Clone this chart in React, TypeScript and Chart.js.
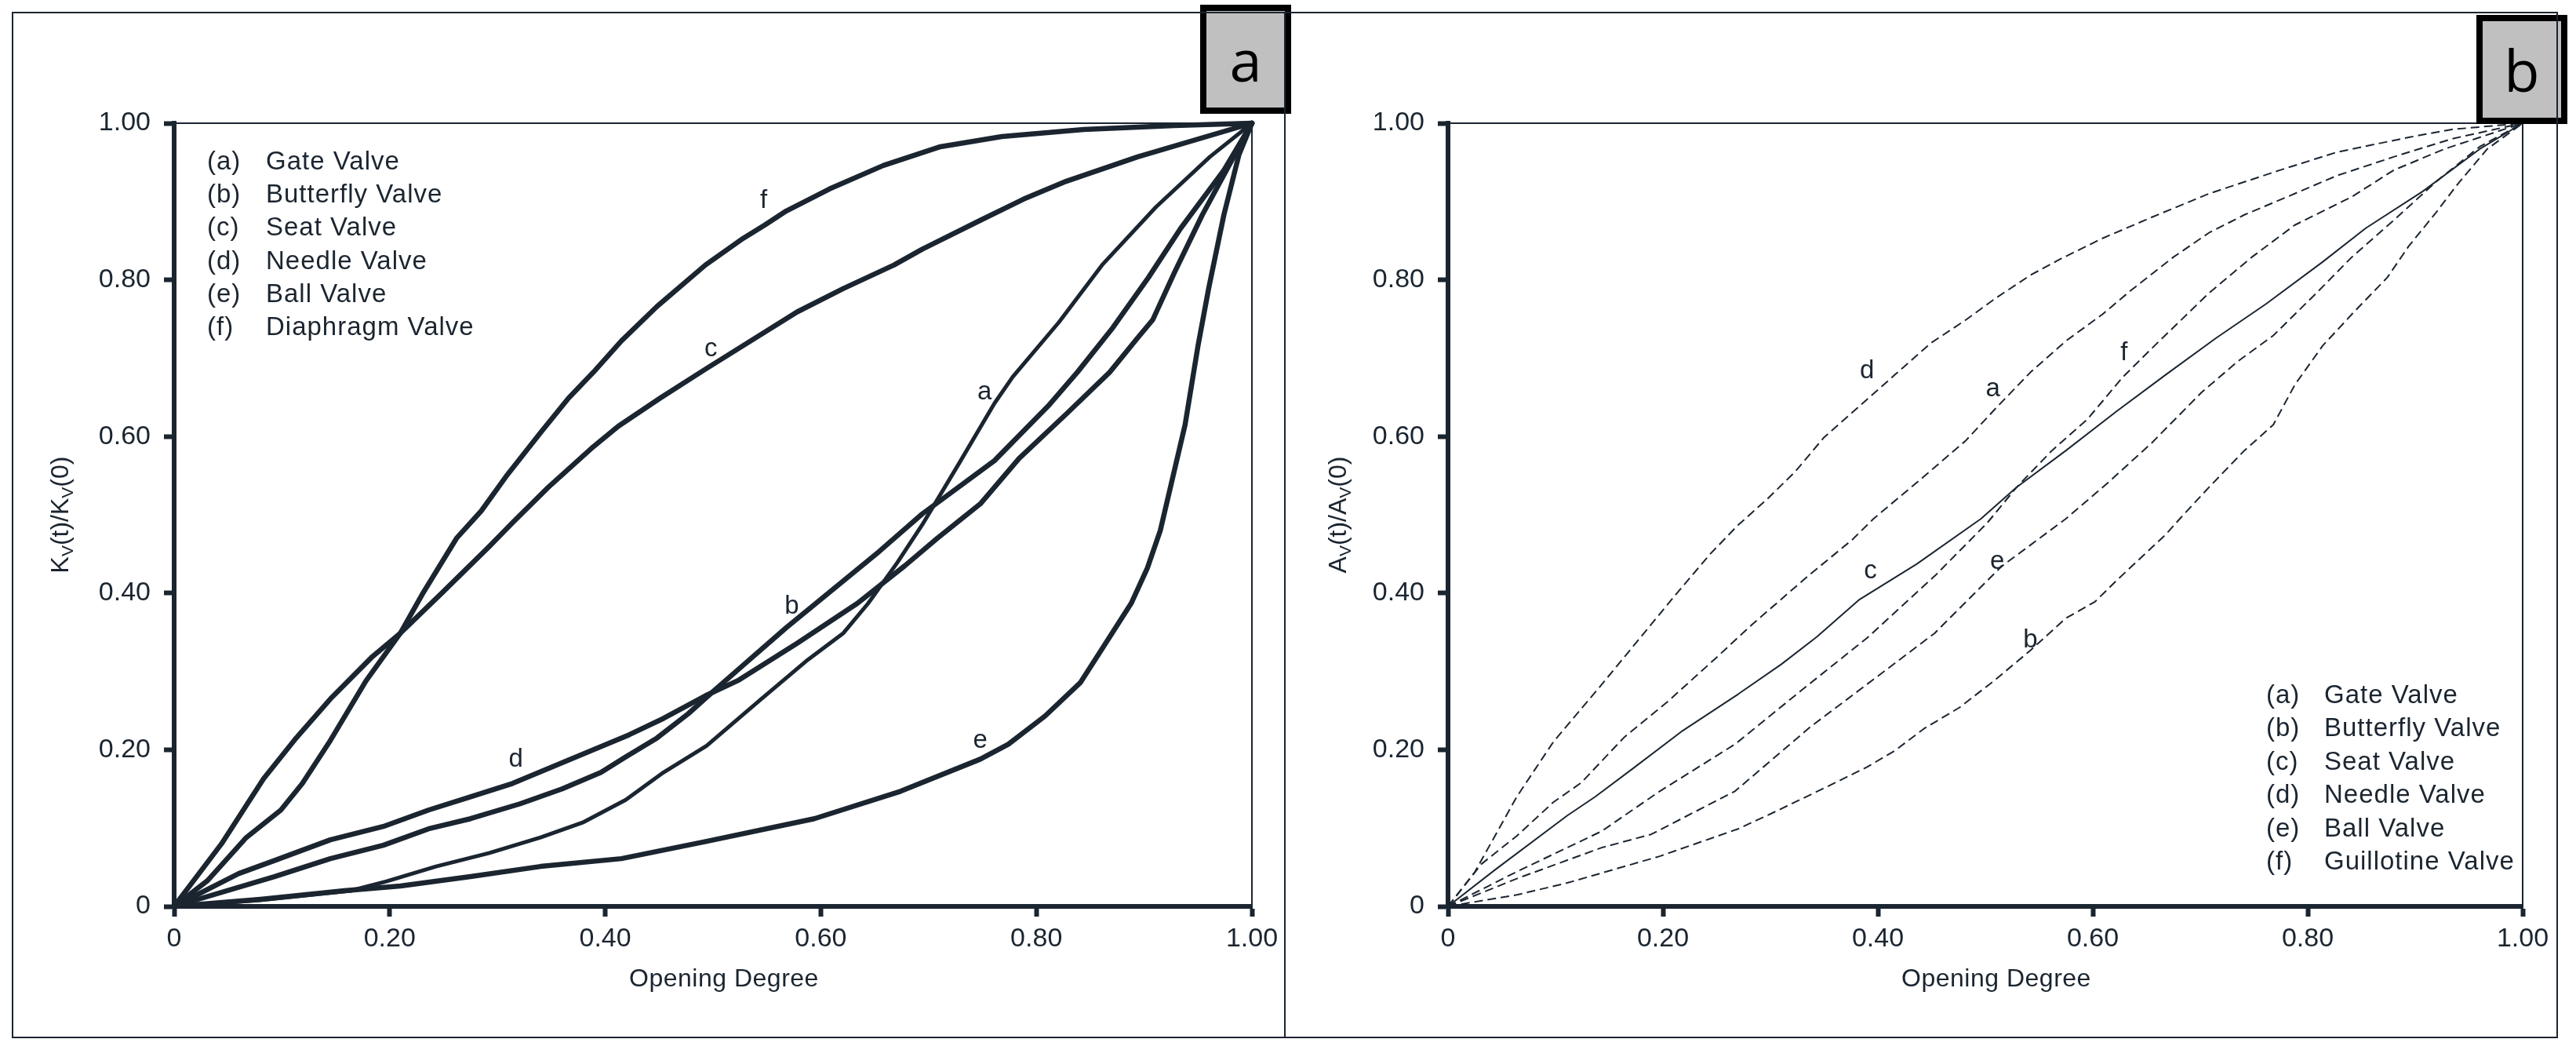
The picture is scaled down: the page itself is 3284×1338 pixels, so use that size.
import React, { useEffect, useRef } from 'react';
import { Chart, registerables } from 'chart.js';

Chart.register(...registerables);

const INK = '#1b2530';
const FONT = "'Liberation Sans', Arial, sans-serif";

// ---------- data ----------
const tickValues = [0, 0.2, 0.4, 0.6, 0.8, 1.0];
const tickLabels = ['0', '0.20', '0.40', '0.60', '0.80', '1.00'];

const valveLetters = ['a', 'b', 'c', 'd', 'e', 'f'];
const kvValveNames = ['Gate Valve', 'Butterfly Valve', 'Seat Valve', 'Needle Valve', 'Ball Valve', 'Diaphragm Valve'];
const avValveNames = ['Gate Valve', 'Butterfly Valve', 'Seat Valve', 'Needle Valve', 'Ball Valve', 'Guillotine Valve'];

const xTitle = 'Opening Degree';
const kvTitleParts: [string, boolean][] = [['K', false], ['V', true], ['(t)/', false], ['K', false], ['V', true], ['(0)', false]];
const avTitleParts: [string, boolean][] = [['A', false], ['V', true], ['(t)/', false], ['A', false], ['V', true], ['(0)', false]];

// panel a : Kv(t)/Kv(0)
const kvGate = [[0, 0], [0.08, 0.008], [0.164, 0.02], [0.197, 0.032], [0.243, 0.051], [0.292, 0.068], [0.34, 0.088], [0.379, 0.107], [0.419, 0.136], [0.454, 0.171], [0.494, 0.205], [0.544, 0.264], [0.588, 0.315], [0.621, 0.349], [0.644, 0.387], [0.671, 0.439], [0.694, 0.487], [0.728, 0.565], [0.761, 0.642], [0.778, 0.676], [0.821, 0.746], [0.861, 0.819], [0.911, 0.893], [0.961, 0.957], [1, 1]];
const kvButterfly = [[0, 0], [0.093, 0.038], [0.145, 0.061], [0.194, 0.078], [0.236, 0.099], [0.275, 0.112], [0.321, 0.131], [0.36, 0.15], [0.396, 0.171], [0.419, 0.191], [0.448, 0.215], [0.477, 0.246], [0.494, 0.267], [0.528, 0.308], [0.568, 0.356], [0.608, 0.401], [0.654, 0.453], [0.694, 0.501], [0.761, 0.569], [0.811, 0.639], [0.838, 0.682], [0.871, 0.739], [0.904, 0.803], [0.934, 0.866], [0.974, 0.94], [1, 1]];
const kvSeat = [[0, 0], [0.044, 0.08], [0.083, 0.163], [0.112, 0.213], [0.145, 0.265], [0.184, 0.319], [0.21, 0.349], [0.249, 0.401], [0.292, 0.459], [0.314, 0.49], [0.347, 0.535], [0.389, 0.587], [0.412, 0.613], [0.451, 0.649], [0.493, 0.686], [0.578, 0.759], [0.621, 0.789], [0.668, 0.819], [0.694, 0.839], [0.748, 0.876], [0.788, 0.903], [0.828, 0.926], [0.894, 0.957], [1, 1]];
const kvNeedle = [[0, 0], [0.06, 0.042], [0.09, 0.057], [0.145, 0.085], [0.194, 0.102], [0.236, 0.123], [0.275, 0.14], [0.314, 0.157], [0.373, 0.191], [0.422, 0.219], [0.454, 0.24], [0.493, 0.269], [0.524, 0.289], [0.578, 0.336], [0.634, 0.387], [0.678, 0.435], [0.708, 0.47], [0.748, 0.514], [0.784, 0.572], [0.828, 0.629], [0.868, 0.682], [0.894, 0.726], [0.908, 0.749], [0.928, 0.809], [0.954, 0.883], [1, 1]];
const kvBall = [[0, 0], [0.08, 0.009], [0.158, 0.02], [0.21, 0.026], [0.275, 0.038], [0.34, 0.051], [0.415, 0.061], [0.494, 0.083], [0.594, 0.112], [0.674, 0.147], [0.748, 0.188], [0.774, 0.207], [0.808, 0.243], [0.841, 0.286], [0.861, 0.329], [0.888, 0.387], [0.903, 0.432], [0.915, 0.48], [0.938, 0.615], [0.95, 0.716], [0.96, 0.79], [0.974, 0.883], [0.988, 0.96], [1, 1]];
const kvDiaphragm = [[0, 0], [0.031, 0.033], [0.067, 0.088], [0.099, 0.123], [0.119, 0.157], [0.145, 0.212], [0.178, 0.288], [0.21, 0.349], [0.23, 0.398], [0.262, 0.47], [0.285, 0.505], [0.308, 0.549], [0.34, 0.605], [0.366, 0.649], [0.389, 0.682], [0.415, 0.722], [0.448, 0.766], [0.493, 0.819], [0.528, 0.853], [0.548, 0.87], [0.568, 0.888], [0.608, 0.916], [0.658, 0.946], [0.711, 0.97], [0.768, 0.983], [0.844, 0.992], [0.928, 0.997], [1, 1]];

// panel b : Av(t)/Av(0)
const avGate = [[0, 0], [0.031, 0.054], [0.064, 0.09], [0.098, 0.133], [0.124, 0.158], [0.164, 0.216], [0.204, 0.261], [0.25, 0.318], [0.283, 0.36], [0.336, 0.423], [0.376, 0.468], [0.396, 0.495], [0.443, 0.549], [0.482, 0.595], [0.509, 0.635], [0.542, 0.682], [0.575, 0.722], [0.609, 0.756], [0.635, 0.786], [0.675, 0.829], [0.708, 0.86], [0.741, 0.883], [0.781, 0.906], [0.827, 0.933], [0.88, 0.957], [0.934, 0.98], [1, 1]];
const avButterfly = [[0, 0], [0.065, 0.015], [0.111, 0.03], [0.197, 0.064], [0.27, 0.099], [0.303, 0.12], [0.35, 0.151], [0.39, 0.178], [0.416, 0.199], [0.443, 0.227], [0.476, 0.254], [0.509, 0.289], [0.542, 0.327], [0.575, 0.368], [0.602, 0.389], [0.622, 0.416], [0.668, 0.475], [0.681, 0.495], [0.708, 0.535], [0.741, 0.582], [0.768, 0.615], [0.788, 0.666], [0.814, 0.716], [0.841, 0.756], [0.874, 0.803], [0.894, 0.843], [0.92, 0.887], [0.94, 0.923], [0.967, 0.967], [1, 1]];
const avSeat = [[0, 0], [0.044, 0.047], [0.111, 0.116], [0.137, 0.14], [0.171, 0.175], [0.217, 0.223], [0.27, 0.271], [0.31, 0.309], [0.343, 0.344], [0.383, 0.392], [0.436, 0.437], [0.496, 0.495], [0.529, 0.535], [0.575, 0.582], [0.622, 0.632], [0.668, 0.679], [0.715, 0.726], [0.761, 0.769], [0.814, 0.823], [0.854, 0.866], [0.907, 0.913], [0.96, 0.967], [1, 1]];
const avNeedle = [[0, 0], [0.025, 0.044], [0.064, 0.14], [0.098, 0.21], [0.141, 0.28], [0.177, 0.34], [0.21, 0.395], [0.244, 0.45], [0.27, 0.487], [0.297, 0.52], [0.323, 0.555], [0.35, 0.599], [0.383, 0.639], [0.416, 0.679], [0.449, 0.719], [0.482, 0.749], [0.509, 0.776], [0.542, 0.806], [0.569, 0.826], [0.609, 0.853], [0.655, 0.88], [0.708, 0.91], [0.774, 0.94], [0.827, 0.963], [0.894, 0.982], [0.934, 0.992], [1, 1]];
const avBall = [[0, 0], [0.065, 0.036], [0.143, 0.075], [0.189, 0.092], [0.267, 0.147], [0.337, 0.229], [0.399, 0.293], [0.453, 0.349], [0.515, 0.434], [0.575, 0.495], [0.615, 0.542], [0.655, 0.592], [0.701, 0.656], [0.735, 0.696], [0.768, 0.729], [0.808, 0.783], [0.841, 0.829], [0.88, 0.876], [0.92, 0.926], [0.96, 0.97], [1, 1]];
const avGuillotine = [[0, 0], [0.065, 0.045], [0.143, 0.096], [0.197, 0.147], [0.267, 0.207], [0.329, 0.276], [0.391, 0.344], [0.453, 0.422], [0.502, 0.49], [0.529, 0.535], [0.562, 0.582], [0.595, 0.622], [0.628, 0.676], [0.662, 0.722], [0.708, 0.783], [0.748, 0.829], [0.788, 0.87], [0.841, 0.906], [0.88, 0.94], [0.927, 0.967], [1, 1]];

// where the curve letters sit (data coordinates, order a..f)
const kvLetterAt = [[0.752, 0.656], [0.573, 0.383], [0.498, 0.712], [0.317, 0.187], [0.748, 0.212], [0.547, 0.901]];
const avLetterAt = [[0.507, 0.66], [0.542, 0.34], [0.393, 0.428], [0.39, 0.683], [0.511, 0.44], [0.629, 0.707]];

const kvSeries = [kvGate, kvButterfly, kvSeat, kvNeedle, kvBall, kvDiaphragm];
const avSeries = [avGate, avButterfly, avSeat, avNeedle, avBall, avGuillotine];

// ---------- plugin ----------
const decorPlugin = {
  id: 'decor',
  beforeDatasetsDraw(chart: any) {
    const { ctx, chartArea: ca } = chart;
    ctx.save();
    ctx.strokeStyle = INK;
    ctx.lineWidth = 2;
    ctx.beginPath();
    ctx.moveTo(ca.left, ca.top);
    ctx.lineTo(ca.right, ca.top);
    ctx.lineTo(ca.right, ca.bottom);
    ctx.stroke();
    ctx.restore();
  },
  afterDraw(chart: any, _args: any, opts: any) {
    const { ctx, chartArea: ca, scales } = chart;
    const xs = scales.x;
    const ys = scales.y;
    ctx.save();
    ctx.fillStyle = INK;
    ctx.font = `33px ${FONT}`;
    ctx.textAlign = 'center';
    ctx.textBaseline = 'middle';
    (opts.letterAt as number[][]).forEach(([lx, ly], i) => {
      ctx.fillText(valveLetters[i], xs.getPixelForValue(lx), ys.getPixelForValue(ly));
    });
    // x title
    ctx.font = `32px ${FONT}`;
    try { (ctx as any).letterSpacing = '0.5px'; } catch (e) { /* ignore */ }
    ctx.fillText(xTitle, (ca.left + ca.right) / 2 + opts.xTitleShift, opts.xTitleY);
    // legend
    ctx.font = `33px ${FONT}`;
    try { (ctx as any).letterSpacing = '1px'; } catch (e) { /* ignore */ }
    ctx.textAlign = 'left';
    chart.data.datasets.forEach((ds: any, i: number) => {
      const yy = ca.top + opts.legendTop + i * opts.legendStep;
      ctx.fillText(`(${valveLetters[i]})`, ca.left + opts.legendLeft, yy);
      ctx.fillText(ds.label, ca.left + opts.legendText, yy);
    });
    try { (ctx as any).letterSpacing = '0px'; } catch (e) { /* ignore */ }
    // y title with subscripts
    const parts = opts.yTitle as [string, boolean][];
    const big = `32px ${FONT}`;
    const small = `21px ${FONT}`;
    let total = 0;
    parts.forEach(([t, sub]) => {
      ctx.font = sub ? small : big;
      total += ctx.measureText(t).width;
    });
    ctx.translate(ca.left - opts.yTitleOffset, (ca.top + ca.bottom) / 2);
    ctx.rotate(-Math.PI / 2);
    ctx.textBaseline = 'alphabetic';
    let cx = -total / 2;
    parts.forEach(([t, sub]) => {
      ctx.font = sub ? small : big;
      ctx.fillText(t, cx, sub ? 17 : 11);
      cx += ctx.measureText(t).width;
    });
    ctx.restore();
  },
};

function tickText(v: number) {
  const i = tickValues.findIndex((t) => Math.abs(t - v) < 1e-9);
  return i >= 0 ? tickLabels[i] : '';
}

function makeScale(axis: 'x' | 'y', size: number) {
  return {
    type: 'linear',
    min: 0,
    max: 1,
    position: axis === 'x' ? 'bottom' : 'left',
    afterBuildTicks: (s: any) => {
      s.ticks = tickValues.map((v) => ({ value: v }));
    },
    afterFit: (s: any) => {
      if (axis === 'x') s.height = size;
      else s.width = size;
    },
    ticks: {
      callback: (v: number) => tickText(v),
      font: { family: FONT, size: 34 },
      color: INK,
      padding: axis === 'x' ? 8 : 17,
      maxRotation: 0,
      autoSkip: false,
    },
    grid: {
      display: true,
      drawOnChartArea: false,
      drawTicks: true,
      tickLength: 13,
      tickWidth: 6,
      tickColor: INK,
    },
    border: { display: true, width: 6, color: INK },
    title: { display: false },
  };
}

type PanelProps = {
  left: number;
  width: number;
  series: number[][][];
  names: string[];
  thick: boolean;
  yAxisWidth: number;
  padRight: number;
  letterAt: number[][];
  yTitle: [string, boolean][];
  yTitleOffset: number;
  legendLeft: number;
  legendText: number;
  legendTop: number;
  legendStep: number;
};

function Panel(p: PanelProps) {
  const ref = useRef<HTMLCanvasElement | null>(null);
  useEffect(() => {
    if (!ref.current) return;
    const datasets = p.series.map((pts, i) => ({
      label: p.names[i],
      data: pts.map(([x, y]) => ({ x, y })),
      borderColor: INK,
      borderWidth: p.thick ? (i === 0 ? 5 : 6.5) : 2,
      borderDash: p.thick ? [] : i === 2 ? [] : [11, 6],
      borderJoinStyle: 'round',
      borderCapStyle: p.thick ? 'round' : 'butt',
      pointRadius: 0,
      tension: 0,
      fill: false,
      clip: false,
    }));
    const chart = new Chart(ref.current, {
      type: 'line',
      data: { datasets } as any,
      options: {
        animation: false,
        responsive: false,
        devicePixelRatio: 1,
        layout: { padding: { left: 0, top: 157, right: p.padRight, bottom: 40 } },
        plugins: {
          legend: { display: false },
          tooltip: { enabled: false },
          decor: {
            letterAt: p.letterAt,
            yTitle: p.yTitle,
            yTitleOffset: p.yTitleOffset,
            legendLeft: p.legendLeft,
            legendText: p.legendText,
            legendTop: p.legendTop,
            legendStep: p.legendStep,
            xTitleShift: 14,
            xTitleY: 1248,
          },
        } as any,
        scales: {
          x: makeScale('x', 143),
          y: makeScale('y', p.yAxisWidth),
        } as any,
      },
      plugins: [decorPlugin as any],
    });
    return () => chart.destroy();
  }, []);
  return (
    <canvas
      ref={ref}
      width={p.width}
      height={1338}
      style={{ position: 'absolute', left: p.left, top: 0, width: p.width, height: 1338 }}
    />
  );
}

const boxStyle = (left: number, top: number): React.CSSProperties => ({
  position: 'absolute',
  left,
  top,
  width: 116,
  height: 139,
  boxSizing: 'border-box',
  border: '8px solid #000',
  background: '#c0c0c0',
  display: 'flex',
  alignItems: 'center',
  justifyContent: 'center',
  fontFamily: "'Open Sans', sans-serif",
  fontSize: 74,
  lineHeight: 1,
  color: '#000',
});

export default function App() {
  useEffect(() => {
    document.body.style.margin = '0';
  }, []);
  return (
    <div style={{ position: 'fixed', left: 0, top: 0, width: 3284, height: 1338, background: '#fff', overflow: 'hidden' }}>
      <Panel
        left={0}
        width={1640}
        series={kvSeries}
        names={kvValveNames}
        thick={true}
        yAxisWidth={222}
        padRight={44}
        letterAt={kvLetterAt}
        yTitle={kvTitleParts}
        yTitleOffset={146}
        legendLeft={42}
        legendText={117}
        legendTop={50}
        legendStep={42.2}
      />
      <Panel
        left={1640}
        width={1644}
        series={avSeries}
        names={avValveNames}
        thick={false}
        yAxisWidth={206}
        padRight={68}
        letterAt={avLetterAt}
        yTitle={avTitleParts}
        yTitleOffset={141}
        legendLeft={1043}
        legendText={1117}
        legendTop={730}
        legendStep={42.4}
      />
      <div style={boxStyle(1530, 6)}>a</div>
      <div style={boxStyle(3157, 19)}>b</div>
      <div style={{ position: 'absolute', left: 15, top: 15, width: 3246, height: 1308, boxSizing: 'border-box', border: `2px solid ${INK}`, pointerEvents: 'none' }} />
      <div style={{ position: 'absolute', left: 1637, top: 15, width: 2, height: 1308, background: INK, pointerEvents: 'none' }} />
    </div>
  );
}
